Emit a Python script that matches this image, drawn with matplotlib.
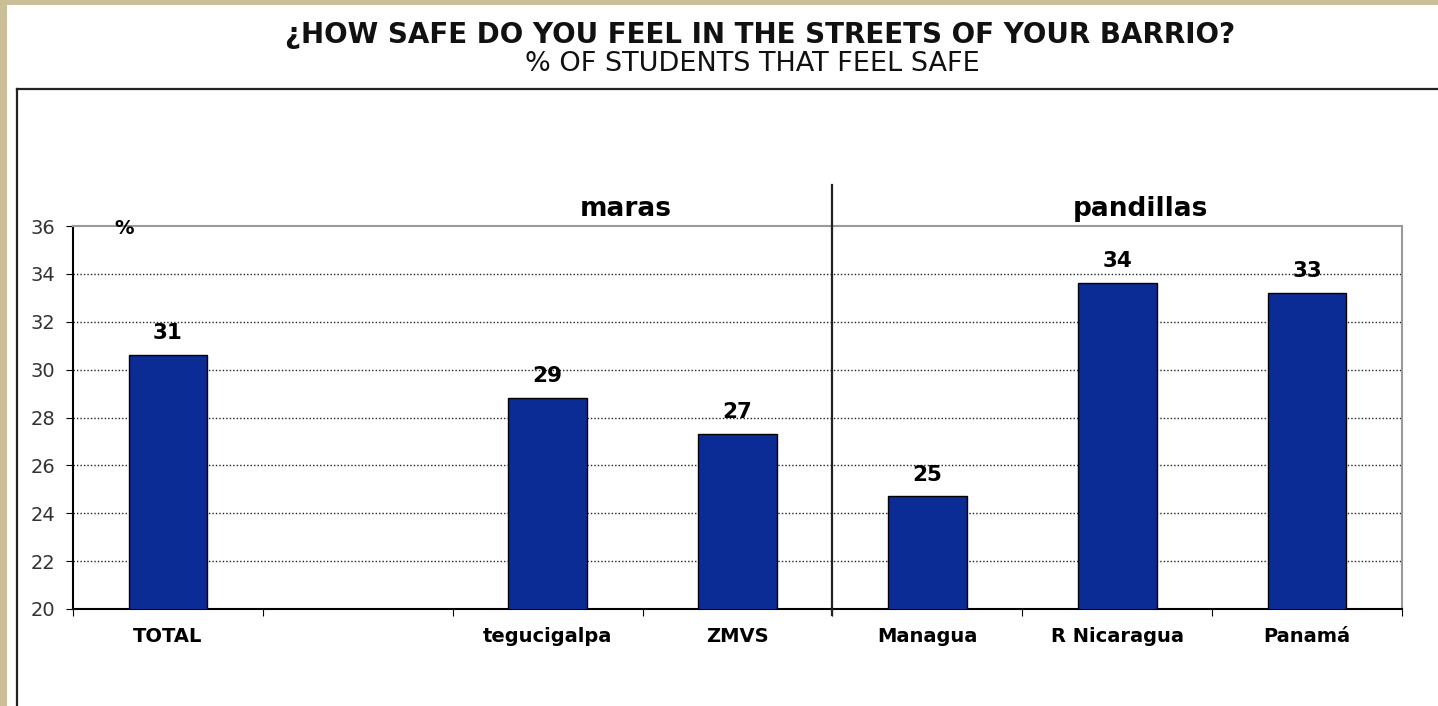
import numpy as np
import matplotlib
matplotlib.use("Agg")
import matplotlib.pyplot as plt
from matplotlib.patches import Rectangle
from matplotlib.lines import Line2D

# data
categories = ["TOTAL", "", "tegucigalpa", "ZMVS", "Managua", "R Nicaragua", "Panamá"]
values = [30.6, np.nan, 28.8, 27.3, 24.7, 33.6, 33.2]
value_labels = ["31", "", "29", "27", "25", "34", "33"]
groups = ["maras", "pandillas"]
y_ticks = [20, 22, 24, 26, 28, 30, 32, 34, 36]

W, H = 1438, 706
fig = plt.figure(figsize=(W / 100, H / 100), dpi=100)
fig.patch.set_facecolor("#cbbf98")

# white page with the beige strip left/top
fig.patches.append(Rectangle((7 / W, 0), 1, 1 - 5 / H, transform=fig.transFigure,
                             facecolor="white", edgecolor="none", zorder=-5))
# outer black box (left and top edges only visible)
fig.lines.append(Line2D([17 / W, 17 / W], [0, 1 - 89 / H], transform=fig.transFigure,
                        color="#222222", lw=1.6, zorder=-4))
fig.lines.append(Line2D([17 / W, 1], [1 - 89 / H, 1 - 89 / H], transform=fig.transFigure,
                        color="#222222", lw=1.6, zorder=-4))

fig.text(760 / W, 1 - 35 / H, "¿HOW SAFE DO YOU FEEL IN THE STREETS OF YOUR BARRIO?",
         ha="center", va="center", fontsize=20, fontweight="bold", color="#111111")
fig.text(752 / W, 1 - 64 / H, "% OF STUDENTS THAT FEEL SAFE",
         ha="center", va="center", fontsize=19.5, color="#111111")

ax_l, ax_r, ax_t, ax_b = 73, 1402, 226, 609
ax = fig.add_axes([ax_l / W, 1 - ax_b / H, (ax_r - ax_l) / W, (ax_b - ax_t) / H])
ax.set_zorder(2)
ax.set_facecolor("white")

x = np.arange(len(categories)) + 0.5
ax.bar(x, values, width=0.415, bottom=0, color="#0b2b95", edgecolor="black", lw=1, zorder=3)
for xi, v, lab in zip(x, values, value_labels):
    if lab:
        ax.text(xi, v + 0.5, lab, ha="center", va="bottom", fontsize=15.5,
                fontweight="bold", zorder=4)

ax.set_xlim(0, len(categories))
ax.set_ylim(20, 36)
ax.set_yticks(y_ticks)
ax.set_yticklabels([str(t) for t in y_ticks], fontsize=14, color="#333333")
ax.set_xticks(np.arange(len(categories) + 1))
ax.set_xticklabels([])
ax.set_xticks(x, minor=True)
ax.set_xticklabels(categories, minor=True, fontsize=14, fontweight="bold")
ax.tick_params(axis="x", which="minor", length=0, pad=13)
ax.tick_params(axis="x", which="major", length=5, direction="out")
ax.tick_params(axis="y", length=5, direction="out", pad=8)

for t in y_ticks[1:-1]:
    ax.axhline(t, color="#222222", lw=1, ls=(0, (1, 1.5)), zorder=1)

ax.spines["left"].set_color("black")
ax.spines["bottom"].set_color("black")
ax.spines["left"].set_linewidth(1.5)
ax.spines["bottom"].set_linewidth(1.5)
ax.spines["top"].set_color("#9a9a9a")
ax.spines["right"].set_color("#9a9a9a")
ax.spines["top"].set_linewidth(1.5)
ax.spines["right"].set_linewidth(1.5)

# vertical separator between the two groups
trans = ax.get_xaxis_transform()
ax.plot([4, 4], [-0.016, 1.107], transform=trans, color="#222222", lw=1.6, clip_on=False, zorder=5)

ax.text(2.91, 1.045, groups[0], transform=trans, ha="center", va="center",
        fontsize=19, fontweight="bold")
ax.text(5.62, 1.045, groups[1], transform=trans, ha="center", va="center",
        fontsize=19, fontweight="bold")
ax.text(0.27, 35.9, "%", ha="center", va="center", fontsize=14, fontweight="bold")

fig.savefig("out.png", dpi=100, facecolor=fig.get_facecolor())
